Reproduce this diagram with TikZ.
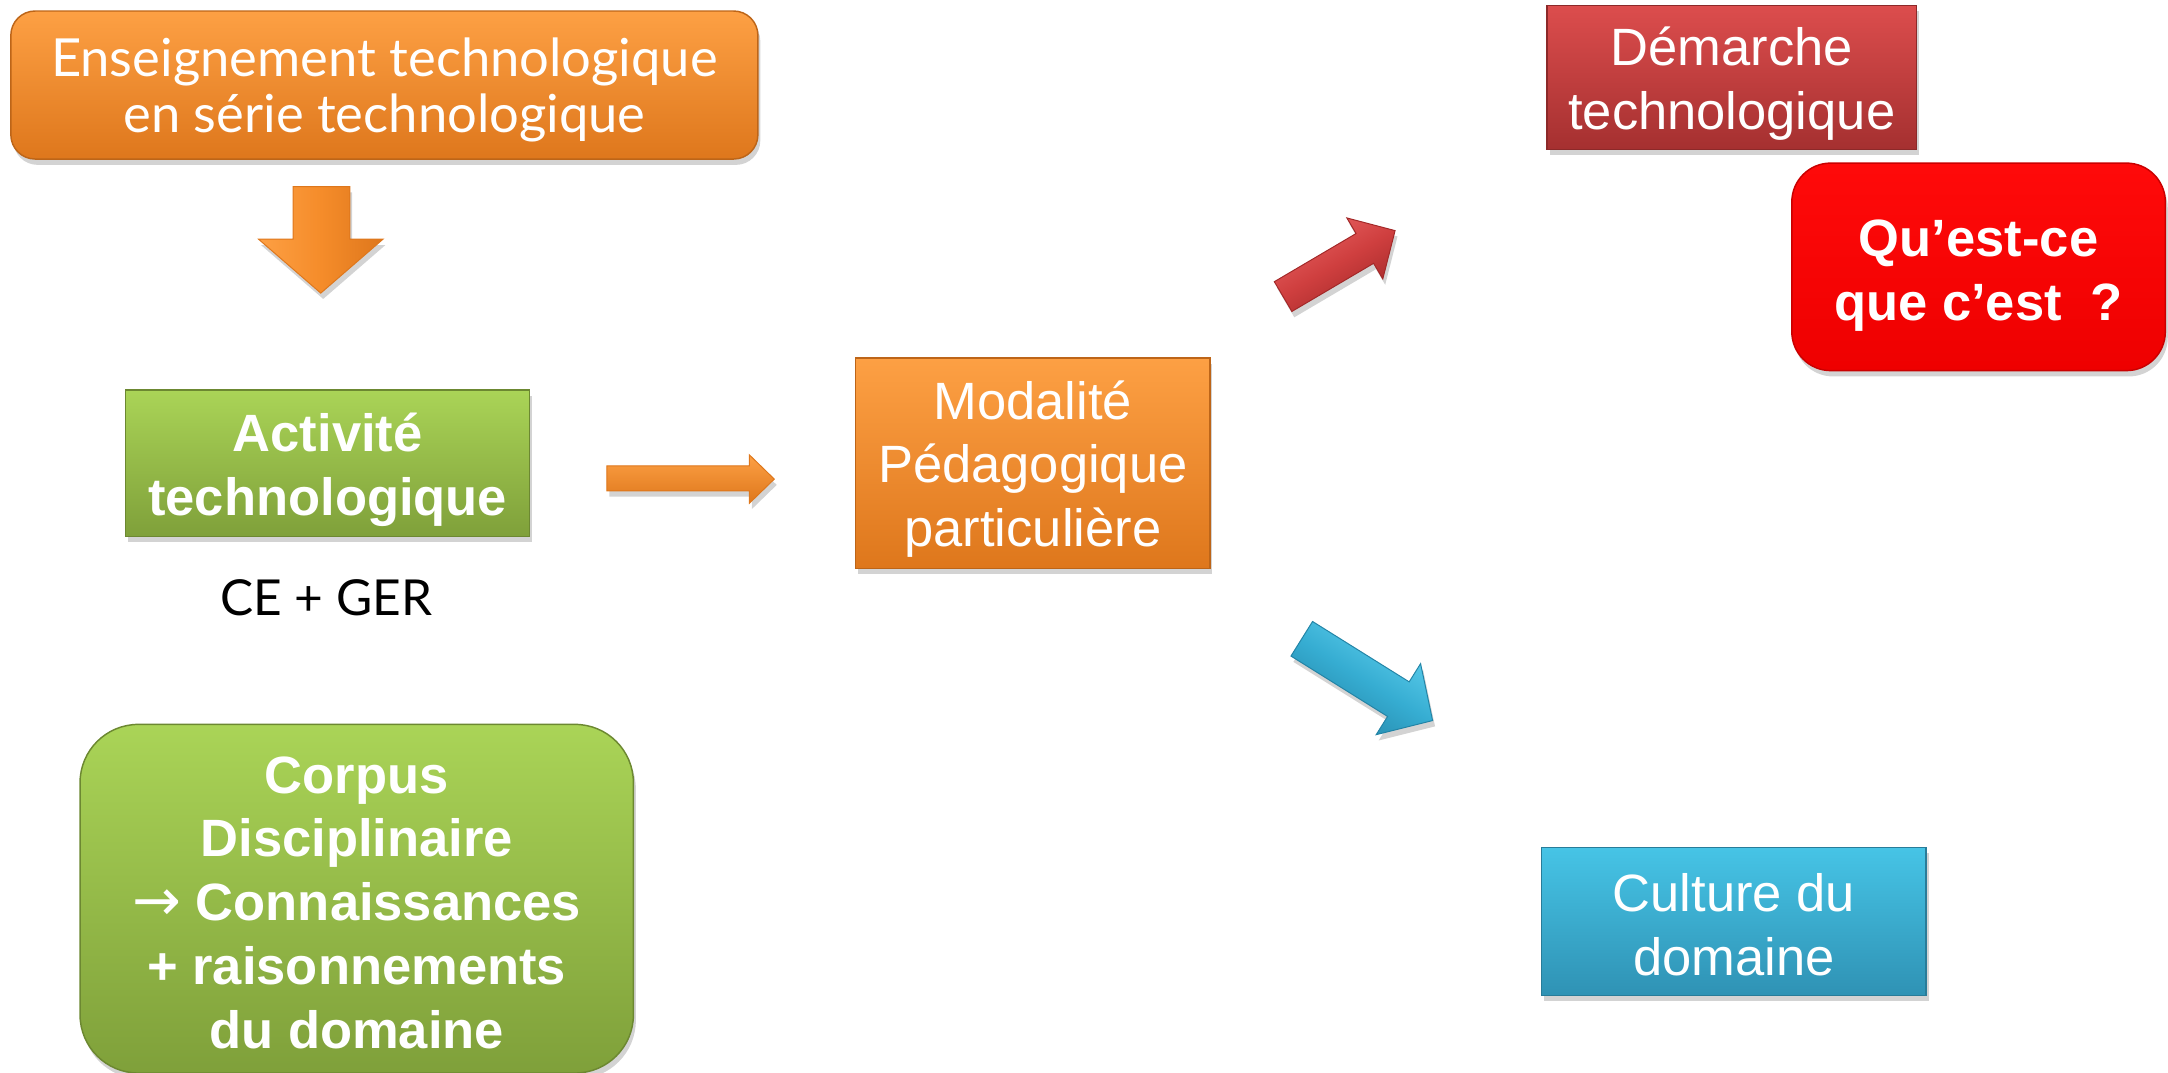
\documentclass[tikz,border=0pt]{standalone}
\usepackage{fontspec}
\setmainfont{Liberation Sans}
\newfontfamily\gill{Lato}
\newfontfamily\dejavu{DejaVu Sans}
\usetikzlibrary{shadows}
\definecolor{orL}{HTML}{FDA044}
\definecolor{orM}{HTML}{F58C2A}
\definecolor{orD}{HTML}{DE771C}
\definecolor{grL}{HTML}{AAD457}
\definecolor{grD}{HTML}{7FA03A}
\definecolor{drL}{HTML}{DC4D4D}
\definecolor{drD}{HTML}{A53030}
\definecolor{rdL}{HTML}{FF0A0A}
\definecolor{rdD}{HTML}{EE0000}
\definecolor{blL}{HTML}{46C4E6}
\definecolor{blD}{HTML}{2F92B4}
\definecolor{raL}{HTML}{E86262}
\definecolor{raM}{HTML}{CF3F3F}
\definecolor{raD}{HTML}{A22828}
\definecolor{baL}{HTML}{62D2F0}
\definecolor{baM}{HTML}{36ADD2}
\definecolor{baD}{HTML}{2384A6}
\tikzset{
  shad/.style={drop shadow={opacity=0.35, shadow xshift=0.5pt, shadow yshift=-1.2pt}},
  boxbase/.style={rectangle, inner sep=0pt, line width=0.3pt, shad},
  txt/.style={inner sep=0pt, align=center, text=white},
  arfont/.style={txt, font=\fontsize{10.8}{13.1}\selectfont},
  arbold/.style={txt, font=\fontsize{10.8}{13.1}\selectfont\bfseries},
  gillfont/.style={txt, font=\gill\fontsize{10.8}{11.5}\selectfont},
  orangebox/.style={boxbase, top color=orL, bottom color=orD, draw=orD!85!black},
  greenbox/.style={boxbase, top color=grL, bottom color=grD, draw=grD!85!black},
  darkredbox/.style={boxbase, top color=drL, bottom color=drD, draw=drD!85!black},
  redbox/.style={boxbase, top color=rdL, bottom color=rdD, draw=rdD!85!black},
  bluebox/.style={boxbase, top color=blL, bottom color=blD, draw=blD!85!black},
  blockarrow/.style={line width=0.2pt, shad},
}
\begin{document}
\begin{tikzpicture}[x=0.01cm, y=-0.01cm]
\useasboundingbox (0,0) rectangle (1568,776);

% boxes
\node[orangebox, rounded corners=5pt, minimum width=5.40cm, minimum height=1.07cm] (ens) at (278,61.5) {};
\node[gillfont] (enst) at ([yshift=-1.0pt]ens.center) {Enseignement technologique\\en série technologique};

\node[greenbox, minimum width=2.92cm, minimum height=1.06cm] (act) at (237,335) {};
\node[arbold] (actt) at ([yshift=-1.3pt]act.center) {Activité\\technologique};

\node[txt, text=black, font=\gill\fontsize{10.2}{11.6}\selectfont] (ceger) at (236,432) {CE + GER};

\node[greenbox, rounded corners=12pt, minimum width=4.00cm, minimum height=2.52cm] (corpus) at (258,650) {};
\node[arbold] (corpust) at ([yshift=-0.8pt]corpus.center) {Corpus\\Disciplinaire\\{\dejavu\mdseries\fontsize{12}{12}\selectfont →}\ Connaissances\\+ raisonnements\\du domaine};

\node[orangebox, minimum width=2.56cm, minimum height=1.52cm] (mod) at (747,335) {};
\node[arfont] (modt) at ([yshift=-1.2pt]mod.center) {Modalité\\Pédagogique\\particulière};

\node[darkredbox, minimum width=2.67cm, minimum height=1.04cm] (dem) at (1252.5,56) {};
\node[arfont] (demt) at ([yshift=-1.3pt]dem.center) {Démarche\\technologique};

\node[redbox, rounded corners=8pt, minimum width=2.70cm, minimum height=1.50cm] (quoi) at (1431,193) {};
\node[arbold] (quoit) at ([yshift=-1.8pt]quoi.center) {Qu’est-ce\\que c’est~~?};

\node[bluebox, minimum width=2.78cm, minimum height=1.07cm] (cult) at (1254,666.5) {};
\node[arfont] (cultt) at ([yshift=-0.6pt]cult.center) {Culture du\\domaine};

% down arrow
\path[blockarrow, draw=orD, left color=orL, right color=orD, middle color=orM]
  (212,135) -- (253,135) -- (253,173) -- (277,173) -- (232,212) -- (187,173) -- (212,173) -- cycle;
\coordinate (downtip) at (232,212);

% right arrow
\path[blockarrow, draw=orD, top color=orL, bottom color=orD]
  (439,337) -- (542,337) -- (542,329) -- (560,346.5) -- (542,364) -- (542,355) -- (439,355) -- cycle;
\coordinate (righttip) at (560,346.5);

% red arrow (up-right)
\begin{scope}[shift={(928,214.5)}, rotate=30.5]
\path[blockarrow, draw=raD, top color=raL, bottom color=raD, middle color=raM, shading angle=30.5]
  (0,-12.5) -- (68.6,-12.5) -- (68.6,-25.6) -- (94,0) -- (68.6,25.6) -- (68.6,12.5) -- (0,12.5) -- cycle;
\coordinate (redtip) at (94,0);
\end{scope}

% blue arrow (down-right)
\begin{scope}[shift={(941.5,462)}, rotate=-32]
\path[blockarrow, draw=baD, top color=baL, bottom color=baD, middle color=baM, shading angle=-32]
  (0,-14.75) -- (82.4,-14.75) -- (82.4,-30.3) -- (111.6,0) -- (82.4,30.3) -- (82.4,14.75) -- (0,14.75) -- cycle;
\coordinate (bluetip) at (111.6,0);
\end{scope}
\end{tikzpicture}
\end{document}
